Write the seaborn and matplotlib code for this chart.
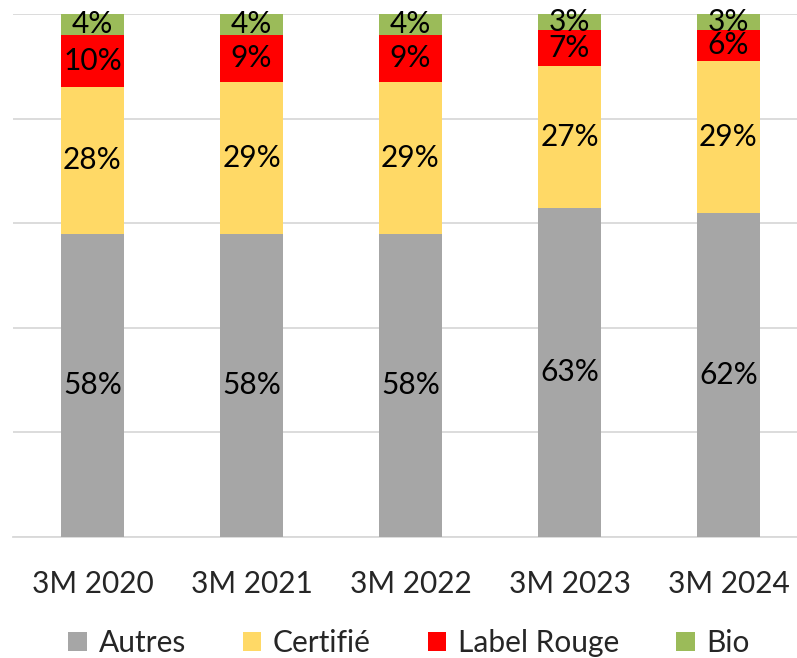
import matplotlib
matplotlib.use("Agg")
import matplotlib.pyplot as plt
import seaborn as sns
from matplotlib.patches import Patch

# Data
periods = ["3M 2020", "3M 2021", "3M 2022", "3M 2023", "3M 2024"]
autres = [58, 58, 58, 63, 62]
certifie = [28, 29, 29, 27, 29]
label_rouge = [10, 9, 9, 7, 6]
bio = [4, 4, 4, 3, 3]

series_names = ["Autres", "Certifié", "Label Rouge", "Bio"]
series_values = [autres, certifie, label_rouge, bio]
colors = ["#A6A6A6", "#FFD966", "#FF0000", "#9BBB59"]

sns.set_style("white")
plt.rcParams["font.family"] = ["Lato", "DejaVu Sans"]

fig = plt.figure(figsize=(7.97, 6.58), dpi=100)
ax = fig.add_axes([13 / 797, 121 / 658, 795 / 797, 523 / 658])

# cumulative tops for stacking
tops = []
running = [0] * len(periods)
for vals in series_values:
    running = [r + v for r, v in zip(running, vals)]
    tops.append(list(running))

# draw from the top down so lower segments overlay higher ones
for name, top, color in reversed(list(zip(series_names, tops, colors))):
    sns.barplot(x=periods, y=top, color=color, width=0.4, ax=ax,
                saturation=1, edgecolor="none", linewidth=0, zorder=3)

# segment labels
for vals, top in zip(series_values, tops):
    for i, (v, t) in enumerate(zip(vals, top)):
        ax.text(i, t - v / 2, f"{v}%", ha="center", va="center",
                fontsize=21.5, color="black", zorder=5)

ax.set_ylim(0, 100)
ax.set_xlim(-0.5, 4.5)
ax.set_yticks([0, 20, 40, 60, 80, 100])
ax.yaxis.grid(True, color="#D9D9D9", linewidth=1.3, zorder=0)
ax.tick_params(axis="y", left=False, labelleft=False)

# category boundary ticks
ax.set_xticks([-0.5, 0.5, 1.5, 2.5, 3.5, 4.5])
ax.set_xticklabels([])
ax.set_xticks(range(len(periods)), minor=True)
ax.set_xticklabels(periods, minor=True, fontsize=21.5)
ax.tick_params(axis="x", which="major", length=11, width=1.3, color="#D9D9D9")
ax.tick_params(axis="x", which="minor", length=0, pad=24)

for s in ["left", "right", "top"]:
    ax.spines[s].set_visible(False)
ax.spines["bottom"].set_color("#D9D9D9")
ax.spines["bottom"].set_linewidth(1.3)
ax.set_xlabel("")
ax.set_ylabel("")

handles = [Patch(facecolor=c, edgecolor="none") for c in colors]
fig.legend(handles, series_names, loc="center", ncol=4,
           bbox_to_anchor=(409 / 797, 1 - 643 / 658), frameon=False,
           fontsize=21.5, handlelength=0.62, handleheight=0.62,
           handletextpad=0.4, columnspacing=1.9)

fig.savefig("out.png", dpi=100)
